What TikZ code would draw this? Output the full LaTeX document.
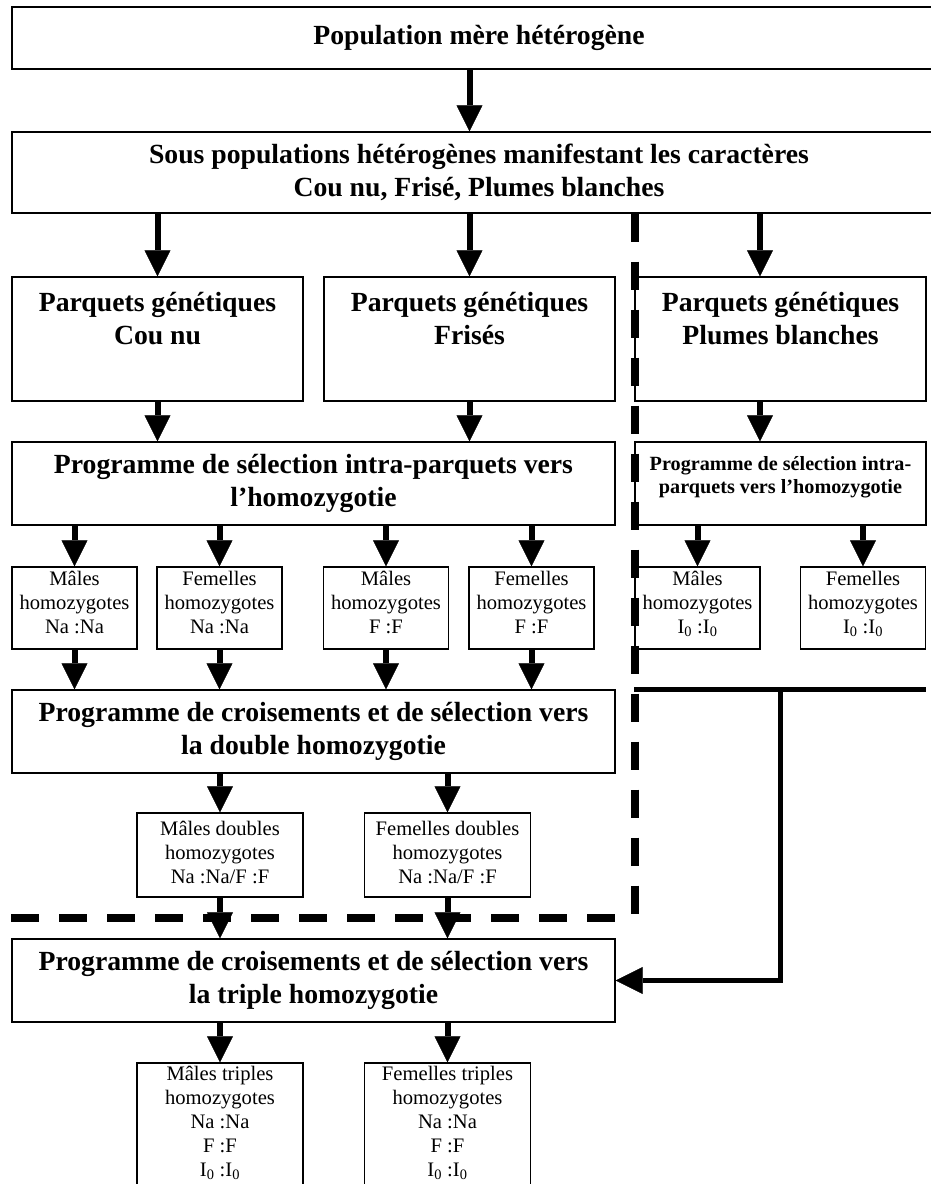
\documentclass[tikz,border=0pt]{standalone}
\usepackage{fontspec}
\setmainfont{Liberation Serif}
\usetikzlibrary{arrows.meta}

\begin{document}
\begin{tikzpicture}[x=1pt, y=-1pt,
    cell/.style={draw, line width=1.3pt, align=flush center, inner sep=3pt},
    bigbox/.style={cell, font=\fontsize{27.7}{33}\selectfont\bfseries},
    smallbox/.style={cell, font=\fontsize{20.6}{24}\selectfont},
    wide/.style={bigbox, text width=928pt},
    prog/.style={bigbox, text width=597pt, minimum height=83},
    parq/.style={bigbox, text width=285pt, inner ysep=0pt, text height=34pt, text depth=90pt},
    simple/.style={smallbox, text width=119pt, inner ysep=0pt, text height=18pt, text depth=64pt},
    dbox/.style={smallbox, text width=160pt, inner ysep=0pt, text height=22pt, text depth=62pt},
    tbox/.style={smallbox, text width=160pt, inner ysep=0pt, text height=17pt, text depth=120pt},
    arr/.style={line width=6pt, -{Triangle[length=26pt,width=26pt,line width=0.5pt]}},
    sep/.style={line width=7.5pt, dash pattern=on 28pt off 20pt},
    link/.style={line width=5.5pt}]

        \useasboundingbox (0,0) rectangle (931,1184);
        \clip (0,0) rectangle (931,1184);

        % Populations
        \node[wide, minimum height=62] (pop) at (479,38) {Population mère hétérogène};
        \node[wide, minimum height=81] (sous) at (479,172.5)
            {Sous populations hétérogènes manifestant les caractères\\Cou nu, Frisé, Plumes blanches};

        % Parquets
        \node[parq] (pcn) at (157.5,339) {Parquets génétiques\\Cou nu};
        \node[parq] (pfr) at (469.5,339) {Parquets génétiques\\Frisés};
        \node[parq] (ppb) at (780.5,339) {Parquets génétiques\\Plumes blanches};
        \coordinate (pbcol) at (760,0);

        % Selection intra-parquets
        \node[prog] (intra) at (313.5,483.5) {Programme de sélection intra-parquets vers\\l’homozygotie};
        \node[smallbox, font=\fontsize{20.2}{23.5}\selectfont\bfseries, text width=285pt, inner ysep=0pt,
            text height=28pt, text depth=55pt] (intrab) at (780.5,483.5)
            {Programme de sélection intra-\\parquets vers l’homozygotie};

        % Homozygotes simples
        \node[simple] (m1) at (74.5,608) {Mâles\\homozygotes\\Na :Na};
        \node[simple] (f1) at (219.5,608) {Femelles\\homozygotes\\Na :Na};
        \node[simple] (m2) at (386,608) {Mâles\\homozygotes\\F :F};
        \node[simple] (f2) at (531.5,608) {Femelles\\homozygotes\\F :F};
        \node[simple] (m3) at (697.5,608) {Mâles\\homozygotes\\I\textsubscript{0} :I\textsubscript{0}};
        \node[simple] (f3) at (863,608) {Femelles\\homozygotes\\I\textsubscript{0} :I\textsubscript{0}};

        % Double homozygotie
        \node[prog] (dbl) at (313.5,731.5) {Programme de croisements et de sélection vers\\la double homozygotie};
        \node[dbox] (md) at (220,855) {Mâles doubles\\homozygotes\\Na :Na/F :F};
        \node[dbox] (fd) at (447.5,855) {Femelles doubles\\homozygotes\\Na :Na/F :F};

        % Triple homozygotie
        \node[prog] (tpl) at (313.5,980.5) {Programme de croisements et de sélection vers\\la triple homozygotie};
        \node[tbox] (mt) at (220,1131.5)
            {Mâles triples\\homozygotes\\Na :Na\\F :F\\I\textsubscript{0} :I\textsubscript{0}};
        \node[tbox] (ft) at (447.5,1131.5)
            {Femelles triples\\homozygotes\\Na :Na\\F :F\\I\textsubscript{0} :I\textsubscript{0}};

        % Separation lines
        \coordinate (corner) at (635,918);
        \draw[sep] (sous.south -| corner) -- (corner);
        \draw[sep] (tpl.west |- corner) -- ([xshift=-12pt]corner);

        % Arrows
        \draw[arr] (pop.south -| pfr.north) -- (sous.north -| pfr.north);

        \draw[arr] (sous.south -| pcn.north) -- (pcn.north);
        \draw[arr] (sous.south -| pfr.north) -- (pfr.north);
        \draw[arr] (sous.south -| pbcol) -- (ppb.north -| pbcol);

        \draw[arr] (pcn.south) -- (pcn.south |- intra.north);
        \draw[arr] (pfr.south) -- (pfr.south |- intra.north);
        \draw[arr] (ppb.south -| pbcol) -- (intrab.north -| pbcol);

        \draw[arr] (intra.south -| m1.north) -- (m1.north);
        \draw[arr] (intra.south -| f1.north) -- (f1.north);
        \draw[arr] (intra.south -| m2.north) -- (m2.north);
        \draw[arr] (intra.south -| f2.north) -- (f2.north);
        \draw[arr] (intrab.south -| m3.north) -- (m3.north);
        \draw[arr] (intrab.south -| f3.north) -- (f3.north);

        \draw[arr] (m1.south) -- (m1.south |- dbl.north);
        \draw[arr] (f1.south) -- (f1.south |- dbl.north);
        \draw[arr] (m2.south) -- (m2.south |- dbl.north);
        \draw[arr] (f2.south) -- (f2.south |- dbl.north);

        \draw[arr] (dbl.south -| md.north) -- (md.north);
        \draw[arr] (dbl.south -| fd.north) -- (fd.north);
        \draw[arr] (md.south) -- (md.south |- tpl.north);
        \draw[arr] (fd.south) -- (fd.south |- tpl.north);

        \draw[arr] (tpl.south -| mt.north) -- (mt.north);
        \draw[arr] (tpl.south -| ft.north) -- (ft.north);

        % Plumes blanches towards triple
        \draw[link] (m3.west |- dbl.north) -- (f3.east |- dbl.north);
        \draw[link, -{Triangle[length=27pt,width=27pt,line width=0.5pt]}] (ppb.center |- dbl.north) |- (tpl.east);

\end{tikzpicture}
\end{document}
